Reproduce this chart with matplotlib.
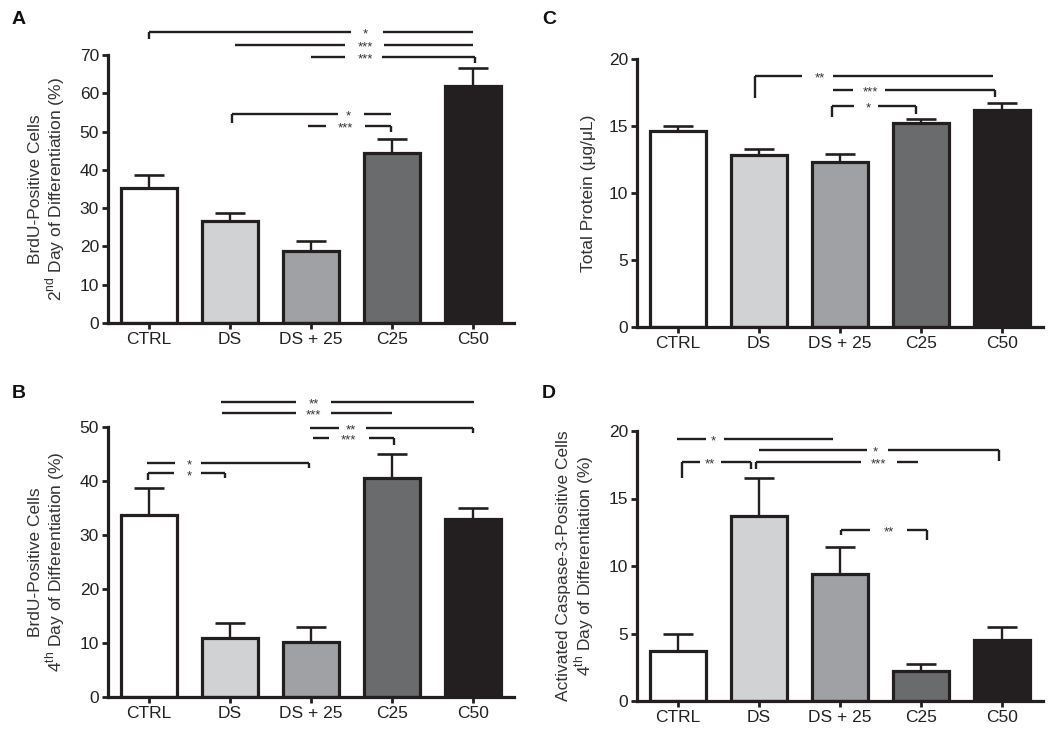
import matplotlib
matplotlib.use("Agg")
import matplotlib.pyplot as plt
import matplotlib.transforms as mtransforms
import numpy as np

plt.rcParams['font.family'] = ['Liberation Sans', 'DejaVu Sans']
plt.rcParams['mathtext.fontset'] = 'custom'
plt.rcParams['mathtext.rm'] = 'Liberation Sans'

categories = ["CTRL", "DS", "DS + 25", "C25", "C50"]
bar_colors = ["#ffffff", "#d1d2d4", "#a0a1a4", "#6a6b6d", "#231f20"]

a_means = [35.2, 26.6, 18.8, 44.4, 61.9]
a_errs = [3.4, 2.1, 2.6, 3.6, 4.7]
b_means = [33.7, 10.9, 10.2, 40.5, 33.0]
b_errs = [5.0, 2.8, 2.8, 4.5, 2.0]
c_means = [14.6, 12.8, 12.3, 15.2, 16.2]
c_errs = [0.4, 0.5, 0.6, 0.35, 0.5]
d_means = [3.7, 13.7, 9.4, 2.2, 4.5]
d_errs = [1.25, 2.8, 2.0, 0.57, 1.0]

a_ylabel = "BrdU-Positive Cells\n2$^{\\mathregular{nd}}$ Day of Differentiation (%)"
b_ylabel = "BrdU-Positive Cells\n4$^{\\mathregular{th}}$ Day of Differentiation (%)"
c_ylabel = "Total Protein (\u03bcg/\u03bcL)"
d_ylabel = "Activated Caspase-3-Positive Cells\n4$^{\\mathregular{th}}$ Day of Differentiation (%)"

# significance brackets: (x_start, x_end, y, label, gap_start, gap_end, label_x, left_drop, right_drop)
a_sig = [
    (0.0, 4.0, 75.9, "*", 2.49, 2.89, 2.67, 1.6, 0),
    (1.07, 4.0, 72.6, "***", 2.42, 2.90, 2.67, 0, 0),
    (2.0, 4.02, 69.4, "***", 2.42, 2.87, 2.67, 0, 1.6),
    (1.03, 2.98, 54.5, "*", 2.33, 2.65, 2.46, 2.3, 0),
    (1.96, 2.98, 51.4, "***", 2.18, 2.67, 2.42, 0, 1.5),
]
b_sig = [
    (0.89, 4.01, 54.6, "**", 1.81, 2.25, 2.03, 0, 0),
    (0.91, 3.0, 52.6, "***", 1.81, 2.25, 2.03, 0, 0),
    (1.99, 4.0, 49.9, "**", 2.34, 2.68, 2.49, 0, 1.1),
    (2.02, 3.02, 47.9, "***", 2.22, 2.71, 2.46, 0, 1.2),
    (-0.02, 1.97, 43.4, "*", 0.33, 0.65, 0.5, 0, 1.0),
    (-0.01, 0.94, 41.4, "*", 0.31, 0.65, 0.5, 1.2, 0.8),
]
c_sig = [
    (0.95, 3.88, 18.7, "**", 1.53, 1.91, 1.75, 1.6, 0),
    (1.91, 3.91, 17.7, "***", 2.16, 2.56, 2.37, 0, 0.5),
    (1.9, 2.93, 16.5, "*", 2.17, 2.47, 2.35, 0.8, 0.6),
]
d_sig = [
    (-0.01, 1.91, 19.4, "*", 0.35, 0.57, 0.44, 0, 0),
    (1.0, 3.96, 18.6, "*", 2.33, 2.59, 2.44, 0, 0.8),
    (0.05, 0.9, 17.7, "**", 0.27, 0.54, 0.4, 1.2, 0.5),
    (0.96, 2.96, 17.7, "***", 2.26, 2.7, 2.47, 0.5, 0),
    (2.01, 3.07, 12.7, "**", 2.37, 2.83, 2.6, 0.4, 0.8),
]

W, H = 1050, 735
fig = plt.figure(figsize=(W / 100, H / 100), dpi=100)

ink = "#231f20"
LW = 2.3


def make_panel(rect_px, means, errs, ymax, ystep, ylabel, sig, letter, letter_px):
    l, b, w, h = rect_px
    ax = fig.add_axes([l / W, b / H, w / W, h / H])
    x = np.arange(len(categories))
    ax.bar(x, means, width=0.69, color=bar_colors, edgecolor=ink, linewidth=LW, zorder=2)
    ax.errorbar(x, means, yerr=[np.zeros(len(errs)), errs], fmt="none", ecolor=ink,
                elinewidth=1.7, capsize=10.5, capthick=1.9, zorder=1)
    ax.set_xlim(-0.5, 4.5)
    ax.set_ylim(0, ymax)
    ax.set_xticks(x)
    ax.set_xticklabels(categories)
    ax.set_yticks(np.arange(0, ymax + 0.01, ystep))
    ax.tick_params(axis="both", direction="out", length=4.5, width=2.0, color=ink,
                   labelsize=12.5, pad=2, labelcolor="#222222")
    for s in ["top", "right"]:
        ax.spines[s].set_visible(False)
    for s in ["left", "bottom"]:
        ax.spines[s].set_linewidth(LW)
        ax.spines[s].set_color(ink)
    ax.set_ylabel(ylabel, fontsize=12.5, color="#333333", labelpad=9, linespacing=1.05)
    # significance brackets
    toff = mtransforms.offset_copy(ax.transData, fig=fig, x=0, y=-5.5, units="dots")
    for (x0, x1, y, lab, g0, g1, lx, dl, dr) in sig:
        ax.plot([x0, g0], [y, y], color=ink, lw=1.7, clip_on=False, solid_capstyle="butt")
        ax.plot([g1, x1], [y, y], color=ink, lw=1.7, clip_on=False, solid_capstyle="butt")
        if dl:
            ax.plot([x0, x0], [y, y - dl], color=ink, lw=1.7, clip_on=False, solid_capstyle="butt")
        if dr:
            ax.plot([x1, x1], [y, y - dr], color=ink, lw=1.7, clip_on=False, solid_capstyle="butt")
        ax.text(lx, y, lab, transform=toff, ha="center", va="baseline", fontsize=9.5,
                color="#333333", clip_on=False)
    fig.text(letter_px[0] / W, 1 - letter_px[1] / H, letter, fontsize=14, fontweight="bold",
             ha="left", va="center", color="#111111")
    return ax


make_panel((108, 412, 406, 268), a_means, a_errs, 70, 10, a_ylabel, a_sig, "A", (12, 20))
make_panel((108, 38, 406, 270), b_means, b_errs, 50, 10, b_ylabel, b_sig, "B", (12, 393))
make_panel((637, 408, 406, 268), c_means, c_errs, 20, 5, c_ylabel, c_sig, "C", (542, 20))
make_panel((637, 34, 406, 270), d_means, d_errs, 20, 5, d_ylabel, d_sig, "D", (542, 393))

fig.savefig("out.png", dpi=100)
